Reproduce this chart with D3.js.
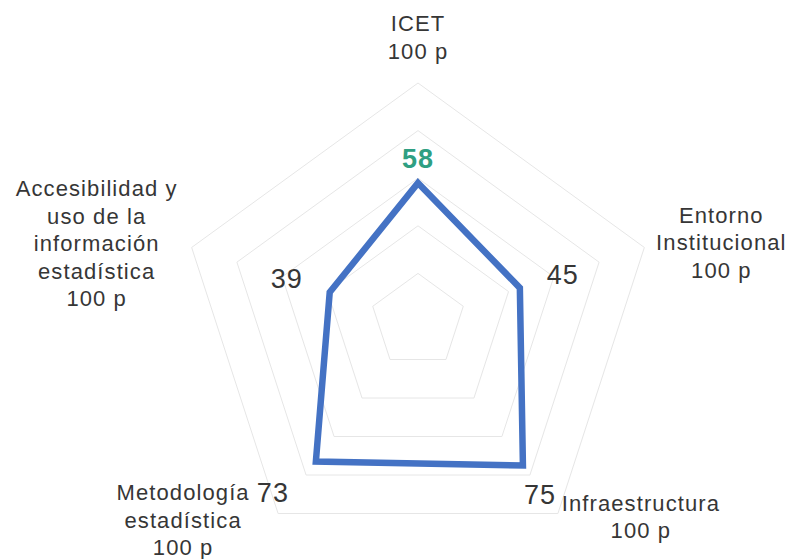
<!DOCTYPE html>
<html>
<head>
<meta charset="utf-8">
<script src="https://cdn.jsdelivr.net/npm/d3@7"></script>
<style>
  html, body { margin: 0; padding: 0; background: #fff; }
  text { font-family: "Liberation Sans", Arial, sans-serif; }
</style>
</head>
<body>
<div id="chart"></div>
<script>
/////////////////////////////////////////////////////
///////////////////// Data //////////////////////////
/////////////////////////////////////////////////////

// Axis names, clockwise from the top, split in lines as printed
const categories = [
  ["ICET"],
  ["Entorno", "Institucional"],
  ["Infraestructura"],
  ["Metodología", "estadística"],
  ["Accesibilidad y", "uso de la", "información", "estadística"]
];
const maxLabel   = "100 p";
const values     = [58, 45, 75, 73, 39];
const gridLevels = [20, 40, 60, 80, 100];

/////////////////////////////////////////////////////
///////////////////// Layout ////////////////////////
/////////////////////////////////////////////////////

const width  = 792;
const height = 559;
const cx = 418, cy = 321;
const radius = 238;

const line_color  = '#4472c4';
const grid_color  = '#e6e6e6';
const text_color  = '#363636';
const first_color = '#2f9f82';   // the ICET score is highlighted

// where the label blocks / value labels sit, relative to their vertex
const labelOffset = [[0, -46], [77, -5], [83, 3], [-95, 6], [-95, -4]];
const valueOffset = [[0, -25], [43, -14], [17, 29], [-43, 30], [-43, -14]];
const lineHeight  = 27.5;

const svg = d3.select("#chart").append("svg")
  .attr("width", width)
  .attr("height", height);

svg.append("rect").attr("width", width).attr("height", height).attr("fill", "#fff");

const g = svg.append("g").attr("transform", `translate(${cx},${cy})`);

const r = d3.scaleLinear().domain([0, 100]).range([0, radius]);
const angle = d3.scalePoint()
  .domain(d3.range(categories.length))
  .range([0, 2 * Math.PI * (categories.length - 1) / categories.length]);

const point = (i, v) => [r(v) * Math.sin(angle(i)), -r(v) * Math.cos(angle(i))];

const radar = d3.lineRadial()
  .angle((d, i) => angle(i))
  .radius(d => r(d))
  .curve(d3.curveLinearClosed);

// Grid pentagons
g.append("g").selectAll("path")
  .data(gridLevels)
  .enter().append("path")
  .attr("d", lvl => radar(categories.map(() => lvl)))
  .attr("fill", "none")
  .attr("stroke", grid_color)
  .attr("stroke-width", 1);

// Series
g.append("path")
  .attr("d", radar(values))
  .attr("fill", "none")
  .attr("stroke", line_color)
  .attr("stroke-width", 6.5)
  .attr("stroke-linejoin", "miter");

// Value labels
g.append("g").selectAll("text")
  .data(values)
  .enter().append("text")
  .attr("x", (d, i) => point(i, d)[0] + valueOffset[i][0])
  .attr("y", (d, i) => point(i, d)[1] + valueOffset[i][1] + 10)
  .attr("text-anchor", "middle")
  .style("font-size", "27px")
  .style("letter-spacing", "1px")
  .style("font-weight", (d, i) => i === 0 ? "bold" : "normal")
  .style("fill", (d, i) => i === 0 ? first_color : text_color)
  .text(d => d);

// Axis labels (name + max value)
const labels = g.append("g").selectAll("text")
  .data(categories)
  .enter().append("text")
  .attr("text-anchor", "middle")
  .style("font-size", "22px")
  .style("letter-spacing", "1.1px")
  .style("fill", text_color);

labels.each(function (lines, i) {
  const all = lines.concat([maxLabel]);
  const [vx, vy] = point(i, 100);
  const bx = vx + labelOffset[i][0];
  const by = vy + labelOffset[i][1] - (all.length - 1) * lineHeight / 2;
  d3.select(this).selectAll("tspan")
    .data(all)
    .enter().append("tspan")
    .attr("x", bx)
    .attr("y", (t, k) => by + k * lineHeight + 8)
    .text(t => t);
});
</script>
</body>
</html>
